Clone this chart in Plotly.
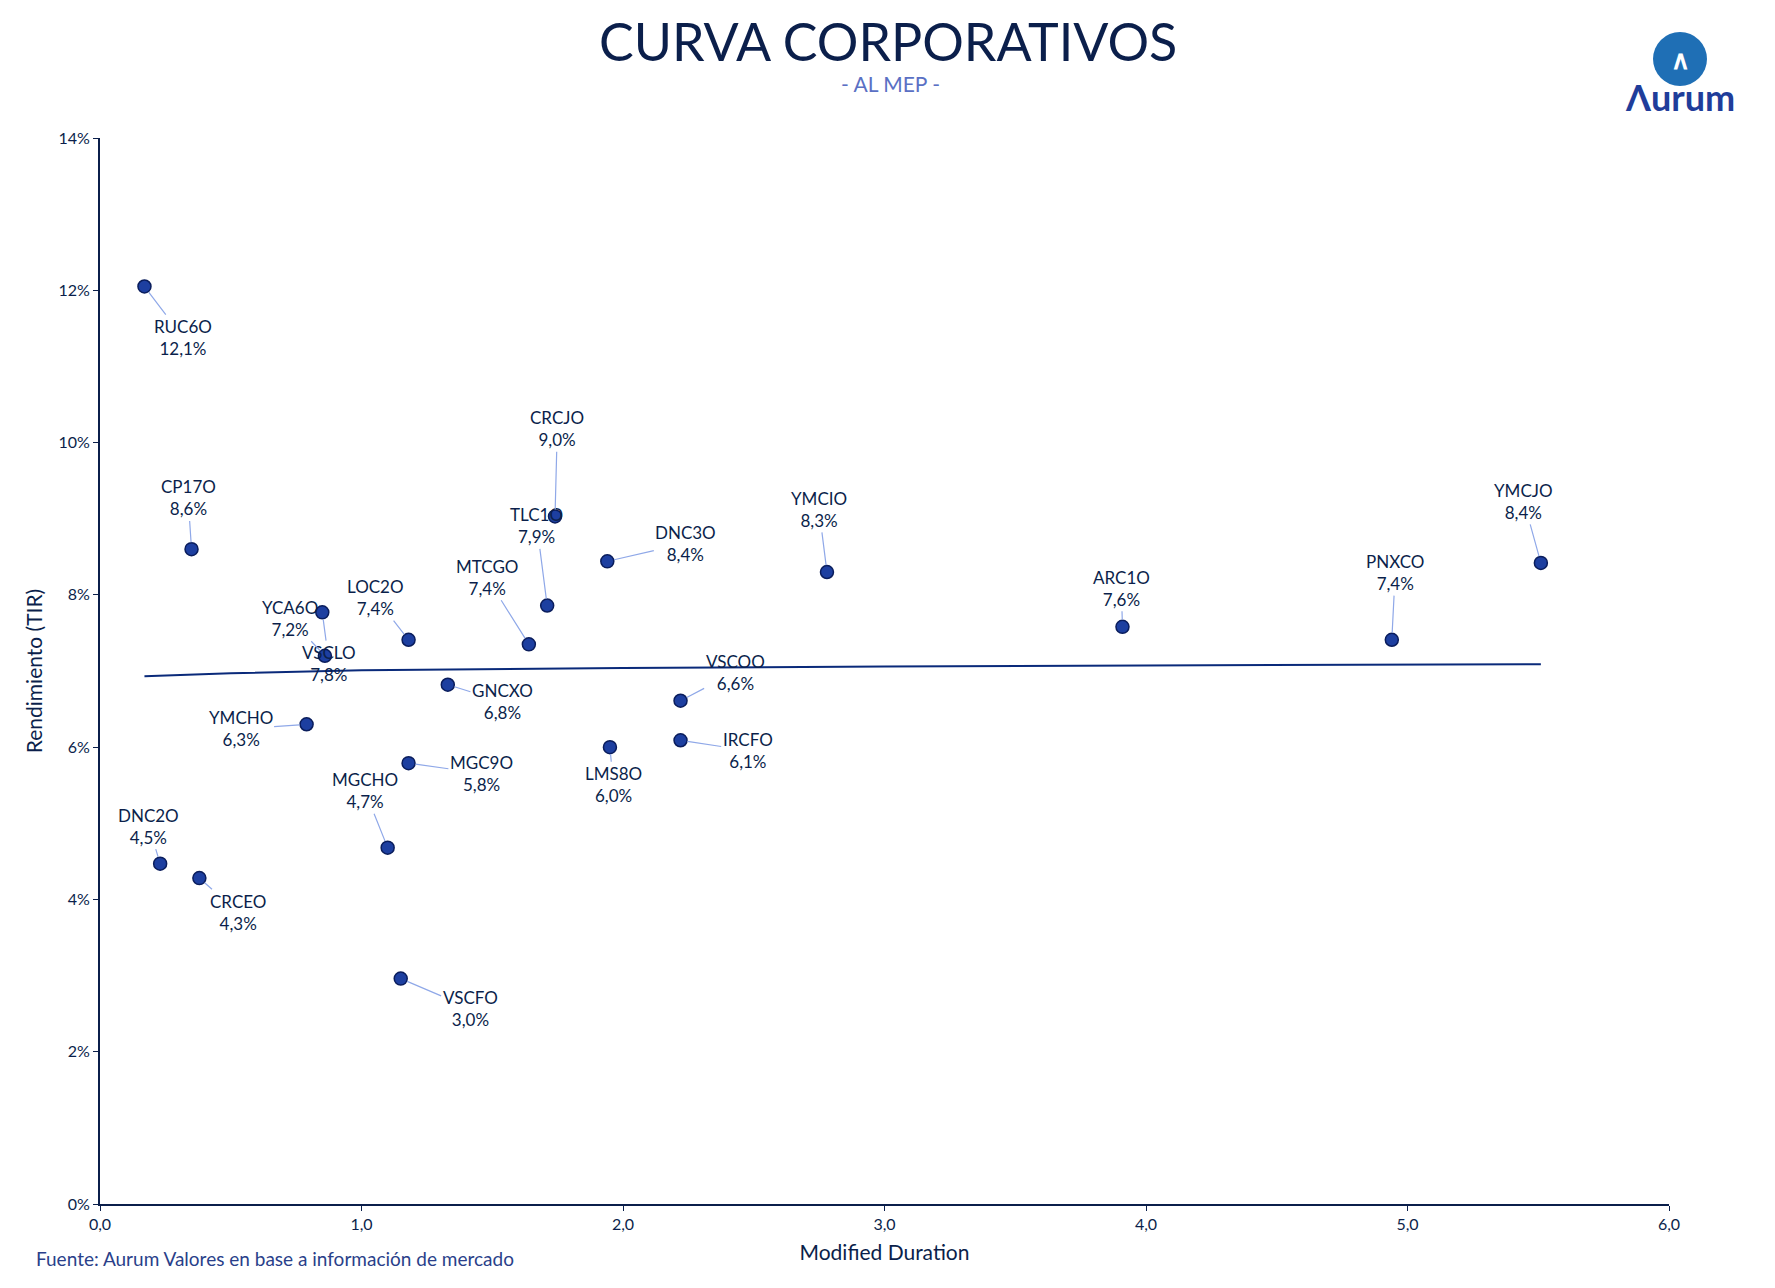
import plotly.graph_objects as go

names = ["RUC6O","CP17O","VSCLO","YCA6O","LOC2O","MTCGO","TLC1O","CRCJO","DNC3O","YMCIO","ARC1O","PNXCO","YMCJO","GNCXO","VSCOO","YMCHO","LMS8O","IRCFO","MGC9O","MGCHO","DNC2O","CRCEO","VSCFO"]
dur = [0.17,0.35,0.85,0.86,1.18,1.64,1.71,1.74,1.94,2.78,3.91,4.94,5.51,1.33,2.22,0.79,1.95,2.22,1.18,1.10,0.23,0.38,1.15]
tir = [12.05,8.6,7.77,7.2,7.41,7.35,7.86,9.03,8.44,8.3,7.58,7.41,8.42,6.82,6.61,6.3,6.0,6.09,5.79,4.68,4.47,4.28,2.96]
lbl = ["12,1%","8,6%","7,8%","7,2%","7,4%","7,4%","7,9%","9,0%","8,4%","8,3%","7,6%","7,4%","8,4%","6,8%","6,6%","6,3%","6,0%","6,1%","5,8%","4,7%","4,5%","4,3%","3,0%"]
off = [(34,45),(-3,-45),(6,45),(-31,-33),(-29,-37),(-37,-59),(-9,-70),(2,-77),(69,-16),(-7,-55),(-1,-34),(3,-59),(-15,-54),(48,15),(48,-25),(-58,4),(3,33),(59,9),(64,9),(-20,-50),(-10,-33),(34,30),(61,26)]
trend_x = [0.17,0.5,1,1.5,2,3,4,5,5.51]
trend_y = [6.93,6.97,7.01,7.03,7.04,7.06,7.07,7.08,7.09]

navy = "#0b1f4b"
S = 1.138
L, R, T, B, W, H = 92, 114, 130, 92, 1775, 1288
PW, PH = W - L - R, H - T - B
def px(x): return (x - L) / PW
def py(y): return (H - B - y) / PH

fig = go.Figure()
fig.add_trace(go.Scatter(x=trend_x, y=trend_y, mode="lines", line=dict(color="#0a2a7a", width=2), hoverinfo="skip"))
fig.add_trace(go.Scatter(x=dur, y=tir, mode="markers",
    marker=dict(size=13, color="#1d3fa0", line=dict(color="#0a1d5c", width=1.5))))
for n, x, y, l, (ox, oy) in zip(names, dur, tir, lbl, off):
    fig.add_annotation(x=x, y=y, text=f"{n}<br>{l}", ax=ox*S, ay=oy*S, showarrow=True,
                       arrowhead=0, arrowcolor="#8fa8e8", arrowwidth=1.2, standoff=7,
                       font=dict(size=17, color=navy, family="Lato"))
def txt(x, y, t, size, color, xa="center"):
    fig.add_annotation(xref="paper", yref="paper", x=px(x), y=py(y), text=t, showarrow=False,
                       xanchor=xa, yanchor="middle", font=dict(size=size, color=color, family="Lato"))
txt(880, 33, "CURVA CORPORATIVOS", 52, navy)
txt(883, 76, "- AL MEP -", 21, "#5a70c4")
fig.add_shape(type="circle", xref="paper", yref="paper", x0=px(1645), x1=px(1699), y0=py(78), y1=py(24),
              fillcolor="#1f6fb5", line=dict(width=0))
txt(1672, 51, "<b>∧</b>", 26, "white")
txt(1672, 89, "<b>Λurum</b>", 36, "#1f3d9a")
txt(26, 1250, "Fuente: Aurum Valores en base a información de mercado", 19, "#2a3f8a", "left")
fig.update_layout(width=W, height=H, plot_bgcolor="white", paper_bgcolor="white",
                  showlegend=False, separators=",.", margin=dict(l=L, r=R, t=T, b=B),
                  font=dict(family="Lato", color=navy))
fig.update_xaxes(range=[0, 6], dtick=1, tickformat=".1f", showgrid=False, zeroline=False,
                 showline=True, linecolor=navy, linewidth=2, ticks="outside", tickcolor=navy,
                 tickfont=dict(size=16), title=dict(text="Modified Duration", font=dict(size=21), standoff=13))
fig.update_yaxes(range=[0, 14], dtick=2, ticksuffix="%", showgrid=False, zeroline=False,
                 showline=True, linecolor=navy, linewidth=2, ticks="outside", tickcolor=navy,
                 tickfont=dict(size=16), title=dict(text="Rendimiento (TIR)", font=dict(size=21), standoff=10))
fig.write_html("out.html")
